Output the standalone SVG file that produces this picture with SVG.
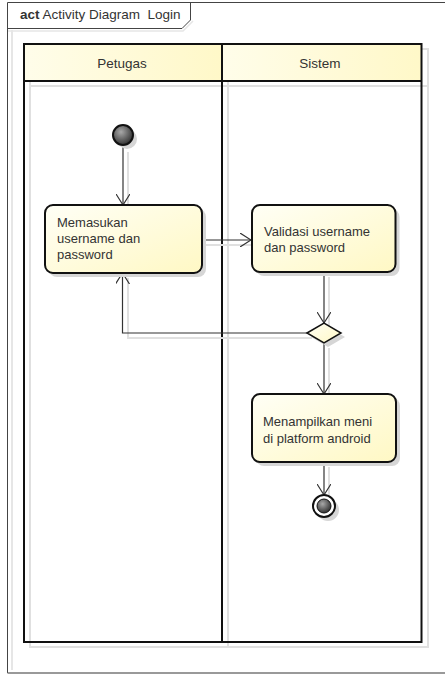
<svg xmlns="http://www.w3.org/2000/svg" width="445" height="675" viewBox="0 0 445 675">
<defs>
<linearGradient id="yel" x1="0" y1="0" x2="1" y2="1">
<stop offset="0" stop-color="#FFFFF6"/>
<stop offset="1" stop-color="#FFF8C4"/>
</linearGradient>
<linearGradient id="hdr" x1="0" y1="0" x2="1" y2="0">
<stop offset="0" stop-color="#FFFDEA"/>
<stop offset="1" stop-color="#FFF8C8"/>
</linearGradient>
<radialGradient id="dark" cx="0.4" cy="0.35" r="0.7">
<stop offset="0" stop-color="#A8A8A8"/>
<stop offset="1" stop-color="#2A2A2A"/>
</radialGradient>
<marker id="arr" viewBox="0 0 12 14" refX="11" refY="7" markerWidth="12" markerHeight="14" markerUnits="userSpaceOnUse" orient="auto">
<path d="M0,0 L11,7 L0,14" fill="none" stroke="#333" stroke-width="1.2"/>
</marker>
<style>
.t{font-family:"Liberation Sans",Arial,sans-serif;font-size:13px;fill:#333}
.act{fill:url(#yel);stroke:#111;stroke-width:2}
.sh{fill:#d6d6d6;stroke:none}
.shl{fill:none;stroke:#e0e0e0;stroke-width:2}
.ln{fill:none;stroke:#333;stroke-width:1.2}
.lane{fill:none;stroke:#111;stroke-width:2}
</style>
</defs>
<rect width="445" height="675" fill="#fff"/>
<g id="frame">
<path d="M12,30 V670" fill="none" stroke="#e6e6e6" stroke-width="2"/>
<path d="M7.5,673 V2.5 H445" fill="none" stroke="#444" stroke-width="1"/>
<path d="M7.5,673 H445" fill="none" stroke="#777" stroke-width="1.5"/>
<path d="M7.5,28.5 H182 L190.5,20 V2.5" fill="none" stroke="#444" stroke-width="1"/>
<path d="M8,31 H183 L193,21" fill="none" stroke="#e6e6e6" stroke-width="1.5"/>
<text x="20" y="19" class="t" style="font-size:13.5px;white-space:pre" xml:space="preserve"><tspan font-weight="bold">act</tspan> Activity Diagram  Login</text>
</g>
<g id="lanes">
<rect x="30" y="49" width="398" height="598" class="shl"/>
<line x1="228" y1="49" x2="228" y2="647" class="shl"/>
<line x1="30" y1="86" x2="428" y2="86" class="shl"/>
<rect x="24" y="44" width="198" height="37" fill="url(#hdr)"/>
<rect x="222" y="44" width="199.5" height="37" fill="url(#hdr)"/>
<rect x="24" y="44" width="397.5" height="598" class="lane"/>
<line x1="222" y1="44" x2="222" y2="642" class="lane"/>
<line x1="24" y1="81" x2="421.5" y2="81" class="lane"/>
<text x="122" y="68" class="t" text-anchor="middle" style="font-size:13.5px">Petugas</text>
<text x="320" y="68" class="t" text-anchor="middle" style="font-size:13.5px">Sistem</text>
</g>
<g id="connectors">
<line x1="128" y1="152" x2="128" y2="210" class="shl" stroke-width="1"/>
<line x1="123" y1="146" x2="123" y2="205" class="ln" marker-end="url(#arr)"/>
<line x1="202" y1="245" x2="256" y2="245" class="shl" stroke-width="1"/>
<line x1="202" y1="240" x2="251" y2="240" class="ln" marker-end="url(#arr)"/>
<line x1="329" y1="277" x2="329" y2="328" class="shl" stroke-width="1"/>
<line x1="324" y1="272" x2="324" y2="323" class="ln" marker-end="url(#arr)"/>
<path d="M312,338 H128 V278" class="shl" stroke-width="1"/>
<path d="M307,333 H122.5 V273" class="ln" marker-end="url(#arr)"/>
<line x1="329" y1="348" x2="329" y2="399" class="shl" stroke-width="1"/>
<line x1="324" y1="343" x2="324" y2="394" class="ln" marker-end="url(#arr)"/>
<line x1="329" y1="467" x2="329" y2="500" class="shl" stroke-width="1"/>
<line x1="324" y1="462" x2="324" y2="495" class="ln" marker-end="url(#arr)"/>
</g>
<g id="start">
<circle cx="127" cy="139" r="10" class="sh"/>
<circle cx="123" cy="135" r="10" fill="url(#dark)" stroke="#111" stroke-width="2"/>
</g>
<g id="memasukan">
<rect x="49" y="209" width="157" height="68" rx="8" class="sh"/>
<rect x="45" y="205" width="157" height="68" rx="8" class="act"/>
<text class="t"><tspan x="57" y="227">Memasukan</tspan><tspan x="57" y="243">username dan</tspan><tspan x="57" y="259">password</tspan></text>
</g>
<g id="validasi">
<rect x="256" y="209" width="143.5" height="67" rx="8" class="sh"/>
<rect x="252" y="205" width="143.5" height="67" rx="8" class="act"/>
<text class="t"><tspan x="264" y="236">Validasi username</tspan><tspan x="264" y="252">dan password</tspan></text>
</g>
<g id="decision">
<polygon points="311,337 328,327 345,337 328,347" class="sh"/>
<polygon points="307,333 324,323 341,333 324,343" fill="url(#yel)" stroke="#111" stroke-width="1.5"/>
</g>
<g id="menampilkan">
<rect x="256" y="398" width="144" height="68" rx="8" class="sh"/>
<rect x="252" y="394" width="144" height="68" rx="8" class="act"/>
<text class="t"><tspan x="263" y="426">Menampilkan meni</tspan><tspan x="263" y="443">di platform android</tspan></text>
</g>
<g id="end">
<circle cx="328" cy="510" r="11" class="sh"/>
<circle cx="324" cy="506" r="11" fill="#fff" stroke="#111" stroke-width="2"/>
<circle cx="324" cy="506" r="7" fill="url(#dark)" stroke="#111" stroke-width="1"/>
</g>
</svg>
